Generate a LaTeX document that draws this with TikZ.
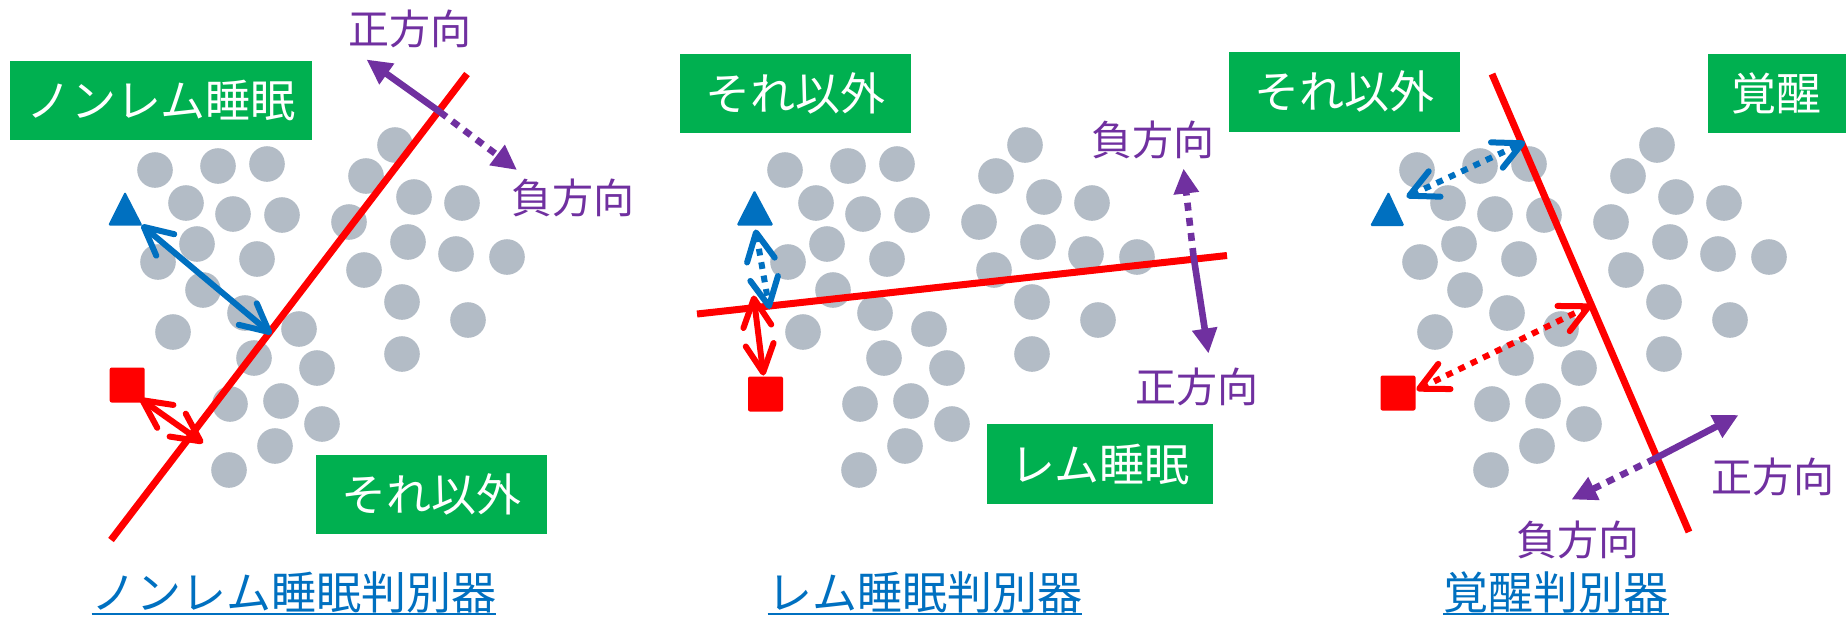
\documentclass[tikz,border=0pt]{standalone}
\usepackage{fontspec}
\newfontfamily\jp{Noto Sans CJK JP}
\usetikzlibrary{arrows.meta}
\definecolor{pgreen}{HTML}{00B050}
\definecolor{pblue}{HTML}{0070C0}
\definecolor{ppurple}{HTML}{7030A0}
\definecolor{pred}{HTML}{FF0000}
\definecolor{pgray}{HTML}{B3BCC6}
\begin{document}
\begin{tikzpicture}[x=0.5pt,y=-0.5pt,
  graydot/.style={fill=pgray},
  sepline/.style={draw=pred, line width=3.5pt},
  greenbox/.style={fill=pgreen, text=white, inner sep=0pt, font=\jp\fontsize{22.5pt}{27pt}\selectfont, minimum height=39.5pt},
  dirlabel/.style={text=ppurple, inner sep=0pt, font=\jp\fontsize{20.5pt}{24pt}\selectfont},
  captiontext/.style={text=pblue, inner sep=0pt, font=\jp\fontsize{22.5pt}{27pt}\selectfont},
  distarrow/.style={line width=3pt, line cap=round, {Straight Barb[round,length=14pt,width=14pt]}-{Straight Barb[round,length=14pt,width=14pt]}},
  dotline/.style={line cap=butt, dash pattern=on 3.4pt off 3.4pt},
  dirdots/.style={line cap=butt, dash pattern=on 4pt off 3.6pt},
  dirarrow/.style={draw=ppurple, line width=3.3pt, -{Triangle[length=12.5pt,width=12pt]}},
  marksq/.style={fill=pred, rounded corners=1pt, minimum size=17.5pt, inner sep=0pt},
  marktri/.style={fill=pblue, rounded corners=0.8pt}
]
\fill[white] (0,0) rectangle (1848,617);
\useasboundingbox (0,0) rectangle (1848,617);

% gray dots in the three panels
\foreach \dx in {0,630,1262}{
  \foreach \px/\py in {155/170,218/166,267/164,186/203,233/214,282/215,197/244,158/262,257/259,203/290,245/313,173/332,299/329,254/358,317/368,230/404,281/401,322/424,275/446,229/470,
    395/145,366/176,414/197,462/203,349/222,408/242,456/254,507/257,364/270,402/302,468/320,402/354}{
    \fill[graydot] (\px+\dx,\py) circle[radius=8.9pt];
  }
}

% ---------- coordinates ----------
\coordinate (s1a) at (111,540);   \coordinate (s1b) at (467,74);
\coordinate (s2a) at (697,314);   \coordinate (s2b) at (1227,255.5);
\coordinate (s3a) at (1492,74);   \coordinate (s3b) at (1689,532);

\coordinate (t1a) at (125,191.5);  \coordinate (t1b) at (108,225.5);    \coordinate (t1c) at (142.5,225.5);
\coordinate (t2a) at (754.5,190);  \coordinate (t2b) at (736.5,225.5);  \coordinate (t2c) at (773.5,225.5);
\coordinate (t3a) at (1388.5,191.5);\coordinate (t3b) at (1370,226);    \coordinate (t3c) at (1404.5,226);

\coordinate (b1s) at (141.5,225);  \coordinate (b1e) at (271.5,334);
\coordinate (b2s) at (755.5,229.5);\coordinate (b2e) at (769.5,309);
\coordinate (b3s) at (1406.5,197); \coordinate (b3e) at (1525,142);

\coordinate (r1s) at (140,398.5);  \coordinate (r1e) at (203,443);
\coordinate (r2s) at (753.5,295.5);\coordinate (r2e) at (763.5,375.5);
\coordinate (r3s) at (1416.5,390); \coordinate (r3e) at (1591.5,305);

\coordinate (p1) at (440,112);     \coordinate (p1pos) at (366.5,59.5);  \coordinate (p1neg) at (517,170);
\coordinate (p2) at (1193.5,256);  \coordinate (p2pos) at (1208.5,353.5);\coordinate (p2neg) at (1183.5,168.5);
\coordinate (p3) at (1655,458.5);  \coordinate (p3pos) at (1738.5,415);  \coordinate (p3neg) at (1571.5,499.5);

% ---------- separating lines ----------
\draw[sepline] (s1a) -- (s1b);
\draw[sepline] (s2a) -- (s2b);
\draw[sepline] (s3a) -- (s3b);

% ---------- green boxes ----------
\node[greenbox, minimum width=151pt] (g1) at (161,100.5) {ノンレム睡眠};
\node[greenbox, minimum width=115.5pt] (g2) at (431,494.5) {それ以外};
\node[greenbox, minimum width=115.5pt] (g3) at (795.5,93) {それ以外};
\node[greenbox, minimum width=113pt, minimum height=40pt] (g4) at (1100,464) {レム睡眠};
\node[greenbox, minimum width=115.5pt, minimum height=40pt] (g5) at (1344.5,91.5) {それ以外};
\node[greenbox, minimum width=68.8pt] (g6) at (1776.8,93) {覚醒};

% ---------- markers ----------
\fill[marktri] (t1a) -- (t1b) -- (t1c) -- cycle;
\fill[marktri] (t2a) -- (t2b) -- (t2c) -- cycle;
\fill[marktri] (t3a) -- (t3b) -- (t3c) -- cycle;
\node[marksq] (sq1) at (127.2,385) {};
\node[marksq] (sq2) at (765.5,394) {};
\node[marksq] (sq3) at (1398,393) {};

% ---------- distance arrows ----------
\draw[distarrow, pblue] (b1s) -- (b1e);
\draw[distarrow, dotline, pblue] (b2s) -- (b2e);
\draw[distarrow, dotline, pblue] (b3s) -- (b3e);
\draw[distarrow, pred] (r1s) -- (r1e);
\draw[distarrow, pred] (r2s) -- (r2e);
\draw[distarrow, dotline, pred] (r3s) -- (r3e);

% ---------- direction arrows ----------
\draw[dirarrow] (p1) -- (p1pos);
\draw[dirarrow, dirdots] (p1) -- (p1neg);
\draw[dirarrow] (p2) -- (p2pos);
\draw[dirarrow, dirdots] (p2) -- (p2neg);
\draw[dirarrow] (p3) -- (p3pos);
\draw[dirarrow, dirdots] (p3) -- (p3neg);

% ---------- direction labels ----------
\node[dirlabel] (l1p) at (410,29) {正方向};
\node[dirlabel] (l1n) at (573,198) {負方向};
\node[dirlabel] (l2n) at (1153,140) {負方向};
\node[dirlabel] (l2p) at (1197,386.5) {正方向};
\node[dirlabel] (l3p) at (1773,477) {正方向};
\node[dirlabel] (l3n) at (1578,540) {負方向};

% ---------- captions ----------
\coordinate (ul) at (0,614);
\node[captiontext] (c1) at (294,592.5) {ノンレム睡眠判別器};
\node[captiontext] (c2) at (925,592.5) {レム睡眠判別器};
\node[captiontext] (c3) at (1556,592.5) {覚醒判別器};
\foreach \c in {c1,c2,c3}{
  \draw[pblue, line width=1pt] (\c.west |- ul) -- (\c.east |- ul);
}
\end{tikzpicture}
\end{document}
